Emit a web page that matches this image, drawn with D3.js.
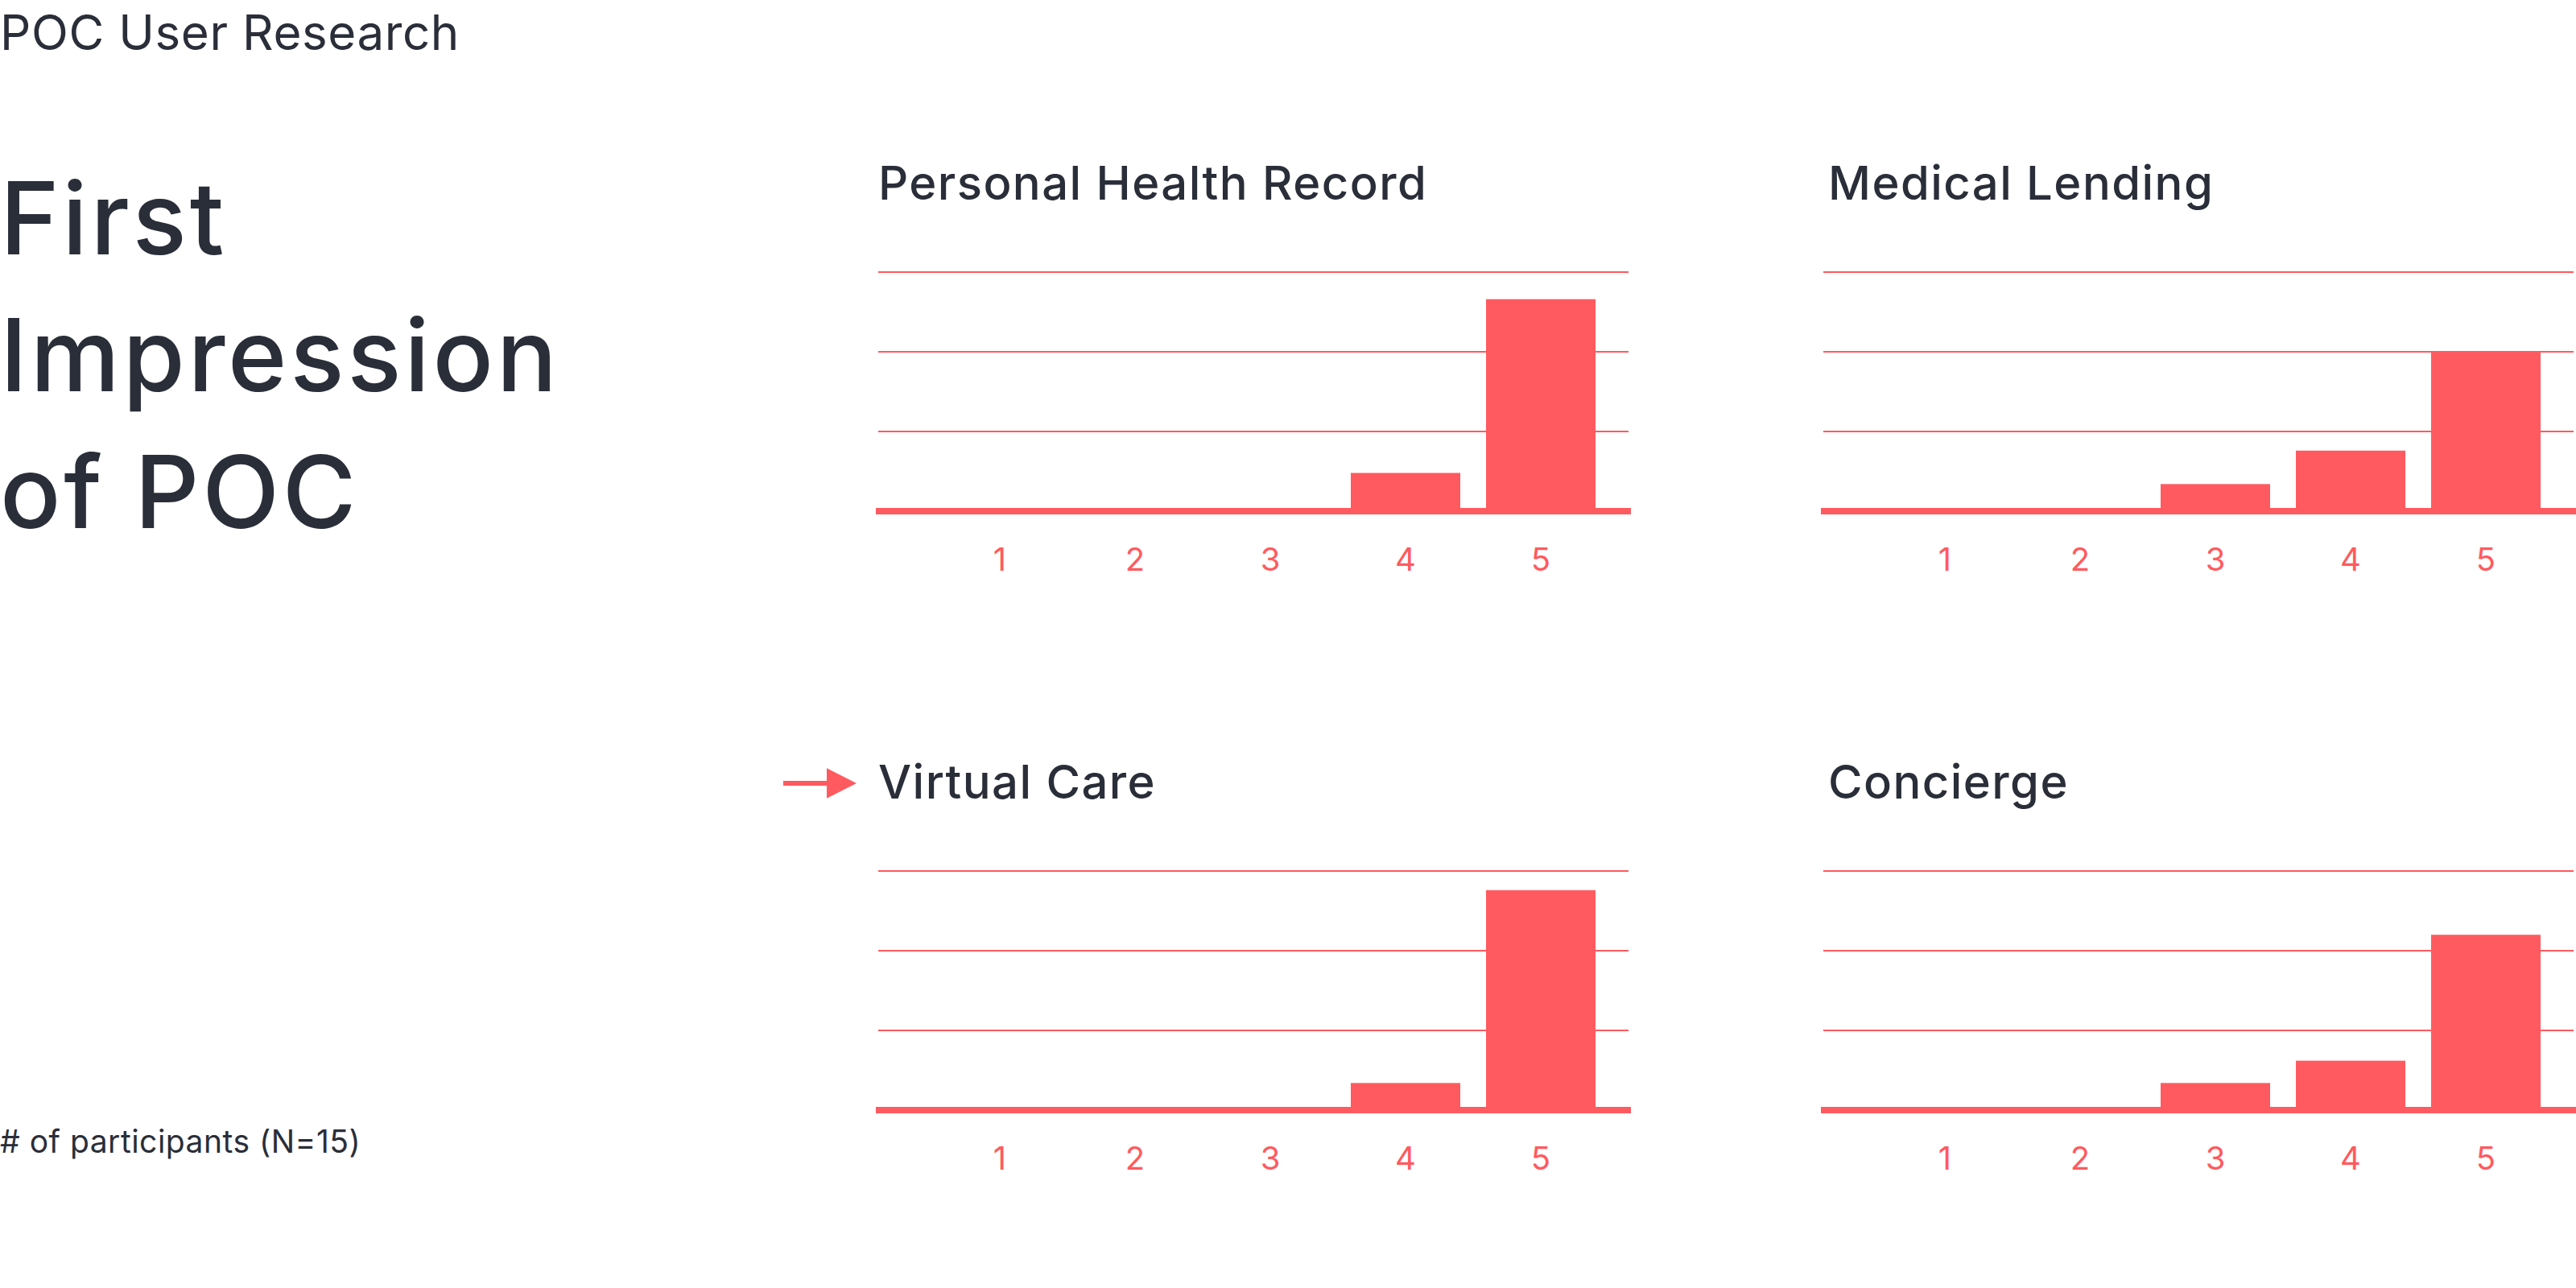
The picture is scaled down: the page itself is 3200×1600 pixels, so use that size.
<!DOCTYPE html>
<html><head><meta charset="utf-8">
<script src="https://cdn.jsdelivr.net/npm/d3@7"></script>
<style>html,body{margin:0;padding:0;background:#fff;} svg{display:block;}</style>
</head><body>
<svg id="chart" width="3200" height="1600"></svg>
<script>
// ---- data ----
const categories = ["1", "2", "3", "4", "5"];
const chartTitles = ["Personal Health Record", "Medical Lending", "Virtual Care", "Concierge"];
const personalHealthRecord = [0, 0, 0, 2.4, 13.3];
const medicalLending = [0, 0, 1.7, 3.8, 10.0];
const virtualCare = [0, 0, 0, 1.7, 13.8];
const concierge = [0, 0, 1.7, 3.1, 11.0];
const gridTicks = [5, 10, 15];
const pageLabel = "POC User Research";
const headline = ["First", "Impression", "of POC"];
const footnote = "# of participants (N=15)";
const highlighted = "Virtual Care";

// ---- style ----
const RED = "#FF5A5F";
const INK = "#2A2E39";
const FONT = "Inter, 'Noto Sans', sans-serif";

const seriesList = [personalHealthRecord, medicalLending, virtualCare, concierge];
const panels = chartTitles.map((t, i) => ({
  title: t,
  values: seriesList[i],
  x0: i % 2 === 0 ? 1088 : 2262,
  titleDx: i % 2 === 0 ? 3 : 9,
  y0: i < 2 ? 635 : 1379
}));
const panelW = 938;
const plotH = 297;

const svg = d3.select("#chart");
svg.append("rect").attr("width", 3200).attr("height", 1600).attr("fill", "#fff");

// page texts
svg.append("text").attr("x", 0).attr("y", 62)
  .attr("font-family", FONT).attr("font-size", 60).attr("fill", INK)
  .attr("letter-spacing", 0.6)
  .text(pageLabel);

svg.append("g").selectAll("text").data(headline).join("text")
  .attr("x", 0).attr("y", (d, i) => 316 + i * 170)
  .attr("font-family", FONT).attr("font-size", 125).attr("fill", INK)
  .attr("font-weight", 500).attr("letter-spacing", 3.7)
  .text(d => d);

svg.append("text").attr("x", 0).attr("y", 1432)
  .attr("font-family", FONT).attr("font-size", 39).attr("fill", INK)
  .attr("letter-spacing", 0.5)
  .text(footnote);

panels.forEach(p => {
  const g = svg.append("g");
  const x = d3.scaleBand().domain(categories)
    .range([p.x0 + 70, p.x0 + 910])
    .paddingInner(0.1905).paddingOuter(0.0952);
  const y = d3.scaleLinear().domain([0, 15]).range([p.y0, p.y0 - plotH]);

  // title
  g.append("text").attr("x", p.x0 + p.titleDx).attr("y", p.y0 - 387.5)
    .attr("font-family", FONT).attr("font-size", 58).attr("fill", INK)
    .attr("font-weight", 500).attr("letter-spacing", 1.45)
    .text(p.title);

  if (p.title === highlighted) {
    const ay = p.y0 - 406;
    g.append("line")
      .attr("x1", p.x0 - 115).attr("x2", p.x0 - 58)
      .attr("y1", ay).attr("y2", ay)
      .attr("stroke", RED).attr("stroke-width", 6);
    g.append("path")
      .attr("d", `M${p.x0 - 61},${ay - 18.75}L${p.x0 - 24},${ay}L${p.x0 - 61},${ay + 18.75}Z`)
      .attr("fill", RED);
  }

  // gridlines
  g.selectAll("line.grid").data(gridTicks).join("line")
    .attr("class", "grid")
    .attr("x1", p.x0 + 3).attr("x2", p.x0 + panelW - 3)
    .attr("y1", d => y(d)).attr("y2", d => y(d))
    .attr("stroke", RED).attr("stroke-width", 2);

  // bars
  g.selectAll("rect.bar").data(p.values.map((v, i) => ({ c: categories[i], v })).filter(d => d.v > 0))
    .join("rect").attr("class", "bar")
    .attr("x", d => x(d.c)).attr("width", x.bandwidth())
    .attr("y", d => y(d.v)).attr("height", d => y(0) - y(d.v))
    .attr("fill", RED);

  // baseline
  g.append("rect").attr("x", p.x0).attr("width", panelW)
    .attr("y", p.y0 - 4).attr("height", 8).attr("fill", RED);

  // category labels
  const ax = g.append("g").attr("transform", `translate(0,${p.y0})`)
    .call(d3.axisBottom(x).tickSize(0).tickPadding(46));
  ax.select(".domain").remove();
  ax.selectAll("text").attr("font-family", FONT).attr("font-size", 40).attr("fill", RED);
});
</script>
</body></html>
